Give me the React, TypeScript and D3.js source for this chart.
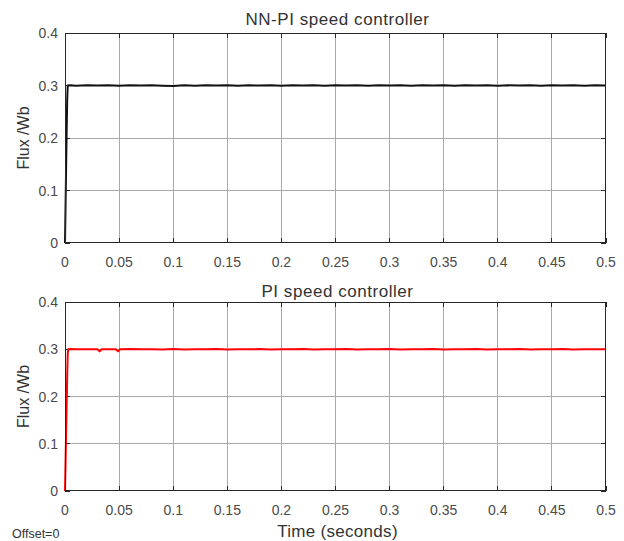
import { useEffect, useRef } from 'react'
import * as d3 from 'd3'

const W = 624, H = 541
const X0 = 65, X1 = 606

// time axis ticks
const X_TICKS = [0, 0.05, 0.1, 0.15, 0.2, 0.25, 0.3, 0.35, 0.4, 0.45, 0.5]
const X_TICK_LABELS = ['0', '0.05', '0.1', '0.15', '0.2', '0.25', '0.3', '0.35', '0.4', '0.45', '0.5']
const Y_TICKS = [0, 0.1, 0.2, 0.3, 0.4]
const Y_TICK_LABELS = ['0', '0.1', '0.2', '0.3', '0.4']

// NN-PI controller flux
const nnTime = [0, 0.0005, 0.001, 0.0015, 0.002, 0.0025, 0.005, 0.01, 0.02, 0.03, 0.04, 0.05, 0.06, 0.07, 0.08, 0.09, 0.1,
  0.11, 0.12, 0.13, 0.14, 0.15, 0.16, 0.17, 0.18, 0.19, 0.2, 0.21, 0.22, 0.23, 0.24, 0.25, 0.26, 0.27, 0.28, 0.29, 0.3,
  0.31, 0.32, 0.33, 0.34, 0.35, 0.36, 0.37, 0.38, 0.39, 0.4, 0.41, 0.42, 0.43, 0.44, 0.45, 0.46, 0.47, 0.48, 0.49, 0.5]
const nnFlux = [0, 0.07, 0.14, 0.21, 0.27, 0.3, 0.3005, 0.2995, 0.3005, 0.2998, 0.3004, 0.2996, 0.3003, 0.2998, 0.3005, 0.2997, 0.2992,
  0.3004, 0.2997, 0.3003, 0.2998, 0.3004, 0.2997, 0.3003, 0.2998, 0.3004, 0.2996, 0.3003, 0.2998, 0.3004, 0.2997, 0.3003, 0.2998, 0.3004, 0.2997, 0.3003, 0.2998,
  0.3004, 0.2997, 0.3003, 0.2998, 0.3004, 0.2997, 0.3003, 0.2998, 0.3004, 0.2997, 0.3003, 0.2998, 0.3004, 0.2997, 0.3003, 0.2998, 0.3004, 0.2997, 0.3003, 0.3]

// PI controller flux
const piTime = [0, 0.0005, 0.001, 0.0015, 0.002, 0.0025, 0.003, 0.005, 0.01, 0.02, 0.03, 0.032, 0.034, 0.036, 0.04, 0.047, 0.049, 0.051,
  0.06, 0.07, 0.08, 0.09, 0.1, 0.11, 0.12, 0.13, 0.14, 0.15, 0.16, 0.17, 0.18, 0.19, 0.2, 0.21, 0.22, 0.23, 0.24, 0.25,
  0.26, 0.27, 0.28, 0.29, 0.3, 0.31, 0.32, 0.33, 0.34, 0.35, 0.36, 0.37, 0.38, 0.39, 0.4, 0.41, 0.42, 0.43, 0.44, 0.45,
  0.46, 0.47, 0.48, 0.49, 0.5]
const piFlux = [0, 0.06, 0.12, 0.18, 0.24, 0.29, 0.3, 0.3003, 0.2998, 0.3002, 0.2998, 0.2955, 0.2998, 0.3002, 0.2998, 0.3, 0.2955, 0.2998,
  0.3003, 0.2998, 0.3002, 0.2997, 0.3003, 0.2996, 0.3002, 0.2998, 0.3003, 0.2997, 0.3002, 0.2998, 0.3003, 0.2997, 0.3002, 0.2998, 0.3003, 0.2997, 0.3002,
  0.2998, 0.3003, 0.2997, 0.3002, 0.2998, 0.3003, 0.2997, 0.3002, 0.2998, 0.3003, 0.2997, 0.3002, 0.2998, 0.3003, 0.2997, 0.3002, 0.2998, 0.3003, 0.2997,
  0.3002, 0.2998, 0.3003, 0.2997, 0.3002, 0.2998, 0.3]

const PANELS = [
  { title: 'NN-PI speed controller', time: nnTime, flux: nnFlux, color: '#111111', top: 33, bottom: 243, titleY: 25 },
  { title: 'PI speed controller', time: piTime, flux: piFlux, color: '#ff0000', top: 302, bottom: 491, titleY: 297 },
]

const FONT = '"Liberation Sans", Arial, sans-serif'

export default function App() {
  const svgRef = useRef<SVGSVGElement>(null)

  useEffect(() => {
    const svg = d3.select(svgRef.current)
    svg.selectAll('*').remove()
    svg.append('rect').attr('width', W).attr('height', H).attr('fill', 'white')

    const xSc = d3.scaleLinear([0, 0.5], [X0, X1])

    PANELS.forEach(p => {
      const ySc = d3.scaleLinear([0, 0.4], [p.bottom, p.top])
      const g = svg.append('g')

      // grid
      X_TICKS.slice(1, -1).forEach(t => {
        g.append('line').attr('x1', xSc(t)).attr('x2', xSc(t)).attr('y1', p.top).attr('y2', p.bottom)
          .attr('stroke', '#a8a8a8').attr('stroke-width', 1).attr('shape-rendering', 'crispEdges')
      })
      Y_TICKS.slice(1, -1).forEach(t => {
        g.append('line').attr('x1', X0).attr('x2', X1).attr('y1', ySc(t)).attr('y2', ySc(t))
          .attr('stroke', '#a8a8a8').attr('stroke-width', 1).attr('shape-rendering', 'crispEdges')
      })

      // ticks on all four sides
      X_TICKS.forEach(t => {
        g.append('line').attr('x1', xSc(t)).attr('x2', xSc(t)).attr('y1', p.bottom).attr('y2', p.bottom - 5)
          .attr('stroke', '#262626').attr('shape-rendering', 'crispEdges')
        g.append('line').attr('x1', xSc(t)).attr('x2', xSc(t)).attr('y1', p.top).attr('y2', p.top + 5)
          .attr('stroke', '#262626').attr('shape-rendering', 'crispEdges')
      })
      Y_TICKS.forEach(t => {
        g.append('line').attr('x1', X0).attr('x2', X0 + 5).attr('y1', ySc(t)).attr('y2', ySc(t))
          .attr('stroke', '#262626').attr('shape-rendering', 'crispEdges')
        g.append('line').attr('x1', X1 - 5).attr('x2', X1).attr('y1', ySc(t)).attr('y2', ySc(t))
          .attr('stroke', '#262626').attr('shape-rendering', 'crispEdges')
      })

      // tick labels
      g.selectAll('text.xt').data(X_TICKS).join('text')
        .attr('x', d => xSc(d)).attr('y', p.bottom + 24)
        .attr('text-anchor', 'middle').attr('font-size', 14).attr('font-family', FONT)
        .attr('fill', '#4a4a4a')
        .text((_, i) => X_TICK_LABELS[i])
      g.selectAll('text.yt').data(Y_TICKS).join('text')
        .attr('x', X0 - 7).attr('y', d => ySc(d) + 5)
        .attr('text-anchor', 'end').attr('font-size', 14).attr('font-family', FONT)
        .attr('fill', '#4a4a4a')
        .text((_, i) => Y_TICK_LABELS[i])

      // curve
      const pts = p.time.map((t, i) => [t, p.flux[i]] as [number, number])
      g.append('path')
        .attr('d', d3.line<[number, number]>().x(d => xSc(d[0])).y(d => ySc(d[1]))(pts))
        .attr('fill', 'none').attr('stroke', p.color).attr('stroke-width', 2)
        .attr('stroke-linejoin', 'round')

      // box
      g.append('rect')
        .attr('x', X0 + 0.5).attr('y', p.top + 0.5).attr('width', X1 - X0 - 1).attr('height', p.bottom - p.top - 1)
        .attr('fill', 'none').attr('stroke', '#262626').attr('stroke-width', 1).attr('shape-rendering', 'crispEdges')

      // title and y label
      g.append('text')
        .attr('x', (X0 + X1) / 2 + 2).attr('y', p.titleY)
        .attr('text-anchor', 'middle').attr('font-size', 17).attr('letter-spacing', 0.55)
        .attr('font-family', FONT).attr('fill', '#333')
        .text(p.title)
      g.append('text')
        .attr('transform', `translate(29,${(p.top + p.bottom) / 2}) rotate(-90)`)
        .attr('text-anchor', 'middle').attr('font-size', 16).attr('font-family', FONT).attr('fill', '#333')
        .text('Flux /Wb')
    })

    svg.append('text')
      .attr('x', (X0 + X1) / 2 + 2).attr('y', 537)
      .attr('text-anchor', 'middle').attr('font-size', 17).attr('letter-spacing', 0.3)
      .attr('font-family', FONT).attr('fill', '#333')
      .text('Time (seconds)')
    svg.append('text')
      .attr('x', 12).attr('y', 538)
      .attr('font-size', 12.5).attr('font-family', FONT).attr('fill', '#333')
      .text('Offset=0')
  }, [])

  return (
    <svg ref={svgRef} width={W} height={H} viewBox={`0 0 ${W} ${H}`}
      style={{ position: 'absolute', left: 0, top: 0, display: 'block' }} />
  )
}
